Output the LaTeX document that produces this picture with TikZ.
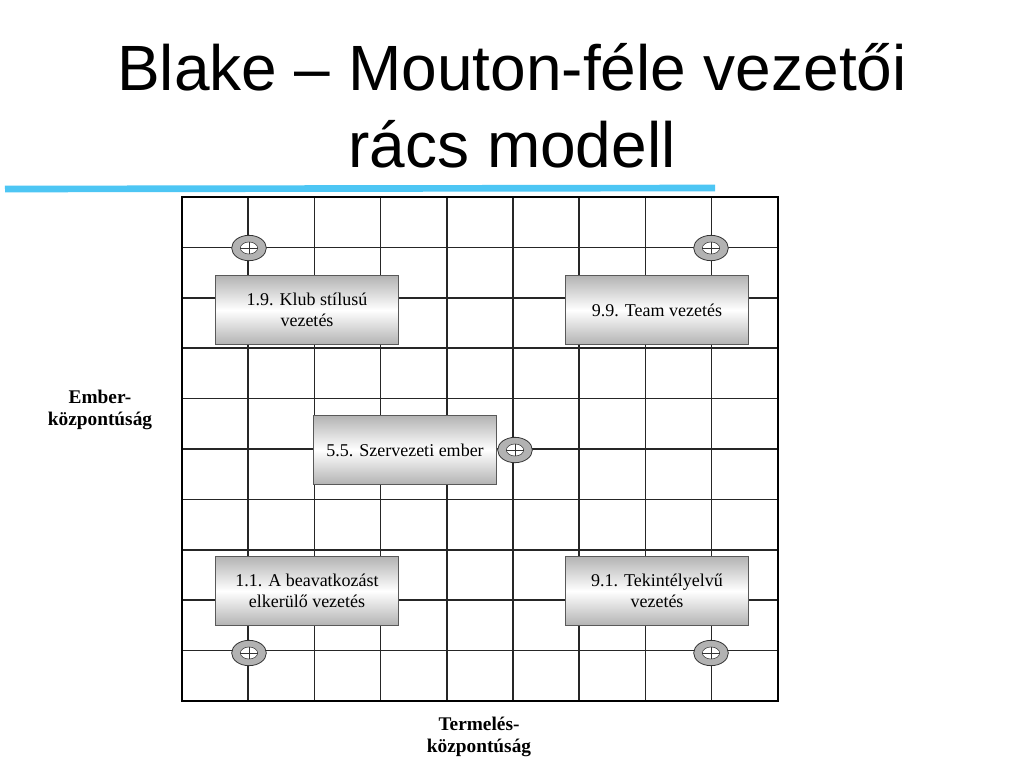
\documentclass[tikz,border=0pt]{standalone}
\usepackage{fontspec}
\setmainfont{Liberation Serif}
\newfontfamily\titlefont{Liberation Sans}
\usetikzlibrary{shapes.geometric}
\begin{document}
\begin{tikzpicture}[x=0.75pt,y=-0.75pt]
\tikzstyle{stylebox}=[draw=gray!70!black,minimum width=137pt,minimum height=52pt,align=center,inner sep=0pt,
  top color=gray!60,bottom color=gray!60,middle color=white,font=\fontsize{13.5}{16}\selectfont]
\tikzstyle{ring}=[ellipse,draw=gray!40!black,fill=gray!60,minimum width=26pt,minimum height=19pt,line width=0.6pt]
\tikzstyle{hole}=[ellipse,draw=gray!40!black,fill=white,minimum width=13pt,minimum height=9pt,inner sep=0pt]
\useasboundingbox (0,0) rectangle (1024,768);
\fill[white] (0,0) rectangle (1024,768);
% title
\node[font=\titlefont\fontsize{48}{58}\selectfont,align=center](T)at(512,106){Blake – Mouton-féle vezetői\\rács modell};
\draw[cyan!70,line width=5pt] (5,189) -- (715,188);
% grid
\foreach \i in {0,...,9} \draw[line width=1.2pt,black!85] ({182+\i*66.2},197) -- ({182+\i*66.2},701);
\foreach \j in {0,...,10} \draw[line width=1.2pt,black!85] (182,{197+\j*50.4}) -- (778,{197+\j*50.4});
\draw[line width=2pt] (182,197) rectangle (778,701);
% boxes
\draw
node[stylebox](K)at(307,310){1.9. Klub stílusú\\vezetés}
node[stylebox](TV)at(657,310){9.9. Team vezetés}
node[stylebox](SZ)at(405,450){5.5. Szervezeti ember}
node[stylebox](B)at(307,591){1.1. A beavatkozást\\elkerülő vezetés}
node[stylebox](TK)at(657,591){9.1. Tekintélyelvű\\vezetés};
% rings
\foreach \n/\x/\y in {r1/249/248,r2/711/248,r3/515/450,r4/249/653,r5/711/653}{
  \node[ring](\n)at(\x,\y){};
  \node[hole](\n h)at(\x,\y){};
  \draw[gray!40!black] (\n h.north) -- (\n h.south) (\n h.west) -- (\n h.east);
}
% axis labels
\node[font=\bfseries\fontsize{14.5}{17}\selectfont,align=center](E)at(100,410){Ember-\\központúság};
\node[font=\bfseries\fontsize{14.5}{17}\selectfont,align=center](P)at(479,737){Termelés-\\központúság};
\end{tikzpicture}
\end{document}
